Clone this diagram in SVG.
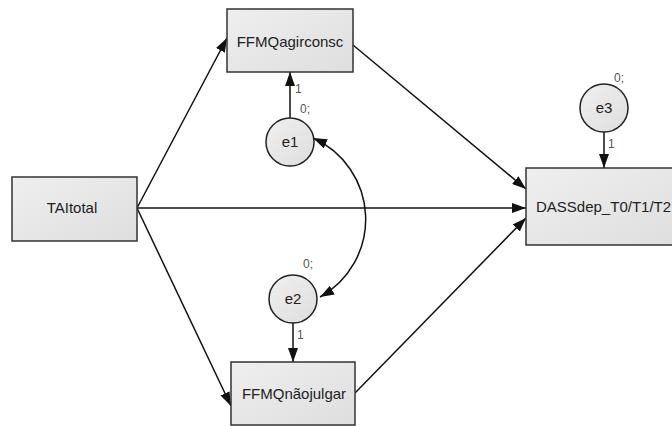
<svg xmlns="http://www.w3.org/2000/svg" width="672" height="426" viewBox="0 0 672 426">
  <defs>
    <linearGradient id="fillGrad" x1="0" y1="0" x2="1" y2="1">
      <stop offset="0" stop-color="#efefef"/>
      <stop offset="1" stop-color="#dedede"/>
    </linearGradient>
    <marker id="arrow" viewBox="0 0 14 10" refX="14" refY="5" markerWidth="14" markerHeight="10" markerUnits="userSpaceOnUse" orient="auto-start-reverse">
      <path d="M0,0 L14,5 L0,10 Z" fill="#111"/>
    </marker>
  </defs>
  <style>
    .box { fill: url(#fillGrad); stroke: #333; stroke-width: 1.5; }
    .err { fill: url(#fillGrad); stroke: #222; stroke-width: 1.5; }
    .lbl { font-family: "Liberation Sans", Arial, sans-serif; font-size: 15px; fill: #222; }
    .par { font-family: "Liberation Sans", Arial, sans-serif; font-size: 12px; fill: #555; }
    .edge { fill: none; stroke: #111; stroke-width: 1.5; marker-end: url(#arrow); }
    .cov { fill: none; stroke: #111; stroke-width: 1.5; marker-start: url(#arrow); marker-end: url(#arrow); }
  </style>
  <rect width="672" height="426" fill="#ffffff"/>

  <!-- paths and covariance -->
  <g id="connectors">
    <path class="edge" d="M137,208 L227,38"/>
    <path class="edge" d="M137,208 L526,208"/>
    <path class="edge" d="M137,208 L231,406"/>
    <path class="edge" d="M353,45 L526,189"/>
    <path class="edge" d="M355,393 L526,218"/>
    <path class="edge" d="M290,118 L290,72"/>
    <path class="edge" d="M293,323 L293,362"/>
    <path class="edge" d="M604,132 L604,168"/>
    <path class="cov" d="M313,138 A89,89 0 0 1 320,297"/>
    <text class="par" x="295" y="93">1</text>
    <text class="par" x="300" y="113">0;</text>
    <text class="par" x="303" y="268">0;</text>
    <text class="par" x="297" y="339">1</text>
    <text class="par" x="614" y="82">0;</text>
    <text class="par" x="608" y="148">1</text>
  </g>

  <g id="TAItotal">
    <rect class="box" x="12" y="177" width="125" height="64"/>
    <text class="lbl" x="72" y="213" text-anchor="middle">TAItotal</text>
  </g>

  <g id="FFMQagirconsc">
    <rect class="box" x="227" y="9" width="126" height="63"/>
    <text class="lbl" x="290" y="47" text-anchor="middle">FFMQagirconsc</text>
  </g>

  <g id="FFMQnaojulgar">
    <rect class="box" x="231" y="362" width="124" height="63"/>
    <text class="lbl" x="294" y="399" text-anchor="middle">FFMQnãojulgar</text>
  </g>

  <g id="DASSdep">
    <rect class="box" x="526" y="168" width="160" height="77"/>
    <text class="lbl" x="536" y="212">DASSdep_T0/T1/T2</text>
  </g>

  <g id="e1">
    <circle class="err" cx="290" cy="142" r="24"/>
    <text class="lbl" x="290" y="147" text-anchor="middle">e1</text>
  </g>

  <g id="e2">
    <circle class="err" cx="293" cy="299" r="24"/>
    <text class="lbl" x="293" y="304" text-anchor="middle">e2</text>
  </g>

  <g id="e3">
    <circle class="err" cx="604" cy="108" r="24"/>
    <text class="lbl" x="604" y="113" text-anchor="middle">e3</text>
  </g>
</svg>
